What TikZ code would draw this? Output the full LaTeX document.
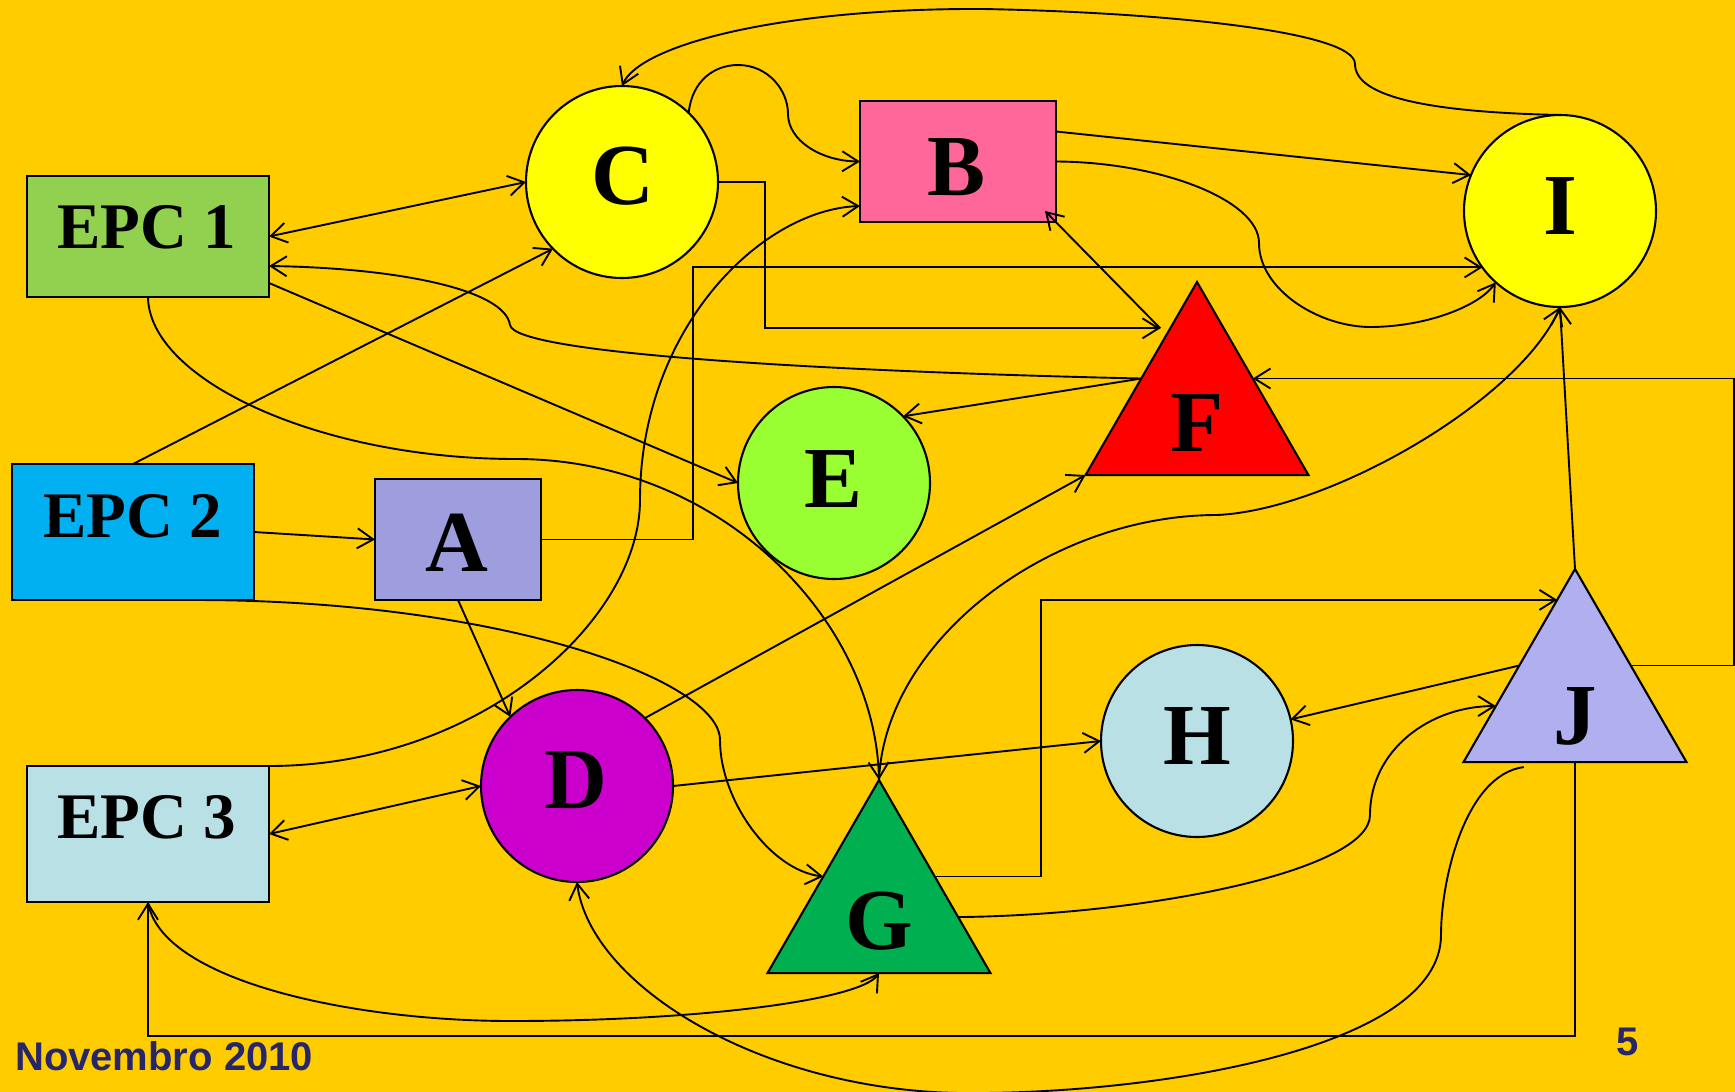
\documentclass[tikz,border=0pt]{standalone}
\usepackage{fontspec}
\setmainfont{Liberation Serif}
\newfontfamily\footfont{Liberation Sans}
\usetikzlibrary{arrows.meta,shapes.geometric,calc}
\definecolor{bg}{HTML}{FFCC00}
\definecolor{cepcA}{HTML}{92D050}
\definecolor{cepcB}{HTML}{00B0F0}
\definecolor{cepcC}{HTML}{B9E0E4}
\definecolor{cA}{HTML}{9E9EDE}
\definecolor{cB}{HTML}{FF6699}
\definecolor{cYel}{HTML}{FFFF00}
\definecolor{cE}{HTML}{99FF33}
\definecolor{cF}{HTML}{FF0000}
\definecolor{cD}{HTML}{CC00CC}
\definecolor{cG}{HTML}{00B050}
\definecolor{cH}{HTML}{B9E0E4}
\definecolor{cJ}{HTML}{B0B0F0}
\definecolor{footc}{HTML}{262669}
\begin{document}
\begin{tikzpicture}[x=1pt,y=-1pt,
  >={Straight Barb[length=16pt,width=20pt]},
  conn/.style={draw=black,line width=1.9pt},
  shp/.style={draw=black,line width=2.1pt,inner sep=0pt,outer sep=0pt},
  box/.style={shp,rectangle,minimum width=242pt,minimum height=121pt},
  ring/.style={shp,circle,minimum size=192pt},
  tri/.style={shp,regular polygon,regular polygon sides=3,minimum size=257.4pt},
  big/.style={anchor=base,inner sep=0pt,font=\fontsize{87}{87}\selectfont\bfseries},
  epc/.style={anchor=base,inner sep=0pt,font=\fontsize{65}{65}\selectfont\bfseries},
  foot/.style={anchor=base,inner sep=0pt,text=footc,font=\footfont\fontsize{40}{40}\selectfont\bfseries}
]
\useasboundingbox (0,0) rectangle (1735,1092);
\fill[bg] (0,0) rectangle (1735,1092);

% shapes
\node[box,fill=cepcA] (EPC1) at (148,236.5) {};
\node[box,fill=cepcB,minimum height=136pt] (EPC2) at (133,532) {};
\node[box,fill=cepcC,minimum height=136pt] (EPC3) at (148,834) {};
\node[box,fill=cA,minimum width=166pt] (A) at (458,539.5) {};
\node[box,fill=cB,minimum width=196pt] (B) at (958,161.5) {};
\node[ring,fill=cYel] (C) at (622,182) {};
\node[ring,fill=cE] (E) at (834,483) {};
\node[ring,fill=cYel] (I) at (1560,211) {};
\node[ring,fill=cD] (D) at (577,786) {};
\node[ring,fill=cH] (H) at (1197,741) {};
\node[tri,fill=cF] (F) at (1197,410.7) {};
\node[tri,fill=cG] (G) at (879,908.7) {};
\node[tri,fill=cJ] (J) at (1575,697.7) {};

% labels
\node[epc] (tEPC1) at (147,248) {EPC 1};
\node[epc] (tEPC2) at (133,537) {EPC 2};
\node[epc] (tEPC3) at (147,838) {EPC 3};
\node[big] (tA) at (457,571) {A};
\node[big] (tB) at (957,195) {B};
\node[big] (tC) at (623,204) {C};
\node[big] (tE) at (834,507) {E};
\node[big] (tI) at (1560,234) {I};
\node[big] (tD) at (576,808) {D};
\node[big] (tH) at (1197,764) {H};
\node[big] (tF) at (1197,451) {F};
\node[big] (tG) at (879,949) {G};
\node[big] (tJ) at (1575,744) {J};
\node[foot,anchor=base west] (date) at (15,1070) {Novembro 2010};
\node[foot] (page) at (1628,1055) {5};

% connection points on triangles
\coordinate (Fl) at ($(F.corner 1)!.5!(F.corner 2)$);
\coordinate (Fr) at ($(F.corner 1)!.5!(F.corner 3)$);
\coordinate (Fu) at ($(F.corner 1)!.24!(F.corner 2)+(-10,0)$);
\coordinate (Gl) at ($(G.corner 1)!.5!(G.corner 2)$);
\coordinate (Gr) at ($(G.corner 1)!.5!(G.corner 3)$);
\coordinate (Gr2) at ($(G.corner 1)!.71!(G.corner 3)$);
\coordinate (Gb) at ($(G.corner 2)!.5!(G.corner 3)$);
\coordinate (Jl) at ($(J.corner 1)!.5!(J.corner 2)$);
\coordinate (Jl1) at ($(J.corner 1)!.16!(J.corner 2)$);
\coordinate (Jl2) at ($(J.corner 1)!.71!(J.corner 2)$);
\coordinate (Jr) at ($(J.corner 1)!.5!(J.corner 3)$);
\coordinate (Jb) at ($(J.corner 2)!.5!(J.corner 3)$);
\coordinate (Jb2) at ($(J.corner 2)!.27!(J.corner 3)+(0,5)$);

% connectors
\draw[conn,<->] (EPC1.east) -- (C.west);
\draw[conn,->] (Fl) .. controls (850,372) and (515,355) .. (510,325) .. controls (505,290) and (400,268) .. ([yshift=-29.5pt]EPC1.east);
\draw[conn,->] ([yshift=-46.5pt]EPC1.east) -- (E.west);
\draw[conn,->] (EPC1.south) .. controls (149,380) and (320,459) .. (516,459) .. controls (720,459) and (875,620) .. (G.corner 1);
\draw[conn,->] (EPC2.north) -- (C.224);
\draw[conn,->] (EPC2.east) -- (A.west);
\draw[conn,->] ([xshift=61pt]EPC2.south) .. controls (500,600) and (720,680) .. (720,740) .. controls (720,800) and (770,870) .. (Gl);
\draw[conn,->] (A.east) -- ++(152,0) |- (I.216);
\draw[conn,->] (A.south) -- (D.134);
\draw[conn,->] (C.east) -- ++(47,0) |- (Fu);
\draw[conn,->] (C.46) .. controls (692,80) and (715,65) .. (738,65) .. controls (768,65) and (788,90) .. (788,114) .. controls (788,140) and (820,161) .. (B.west);
\draw[conn,->] (I.north) .. controls (1420,112) and (1355,95) .. (1355,64) .. controls (1355,30) and (1150,12) .. (983,9) .. controls (780,8) and (640,45) .. (C.north);
\draw[conn,->] ([yshift=30pt]B.east) -- (I.158);
\draw[conn,->] (B.east) .. controls (1160,162) and (1259,200) .. (1259,243) .. controls (1259,290) and (1320,328) .. (1373,327) .. controls (1430,326) and (1480,305) .. (I.228);
\draw[conn,->] (Fu) -- ([xshift=-11pt,yshift=11pt]B.south east);
\draw[conn,->] (EPC3.north east) .. controls (480,766) and (640,620) .. (640,500) .. controls (640,330) and (760,210) .. ([yshift=-44.5pt]B.west);
\draw[conn,<->] (EPC3.east) -- (D.west);
\draw[conn,->] (Jb) -- ++(0,274) -| (EPC3.south);
\draw[conn,->] (EPC3.south) .. controls (160,980) and (350,1021) .. (511,1021) .. controls (700,1021) and (860,1000) .. (Gb);
\draw[conn,->] (D.east) -- (H.west);
\draw[conn,->] (D.45) -- (F.corner 2);
\draw[conn,->] (Jb2) .. controls (1465,775) and (1441,880) .. (1441,935) .. controls (1441,1050) and (1150,1095) .. (960,1093) .. controls (760,1090) and (590,985) .. (D.south);
\draw[conn,->] (G.corner 1) .. controls (885,640) and (1050,515) .. (1217,515) .. controls (1330,510) and (1520,400) .. (I.south);
\draw[conn,->] (Gr) -- ++(106,0) |- (Jl1);
\draw[conn,->] (Gr2) .. controls (1150,915) and (1370,870) .. (1370,815) .. controls (1370,750) and (1430,706) .. (Jl2);
\draw[conn,->] (Jl) -- (H.13);
\draw[conn,->] (J.corner 1) -- (I.south);
\draw[conn,->] (Jr) -- ++(103,0) |- (Fr);
\draw[conn,->] (Fl) -- (E.44);
\end{tikzpicture}
\end{document}
